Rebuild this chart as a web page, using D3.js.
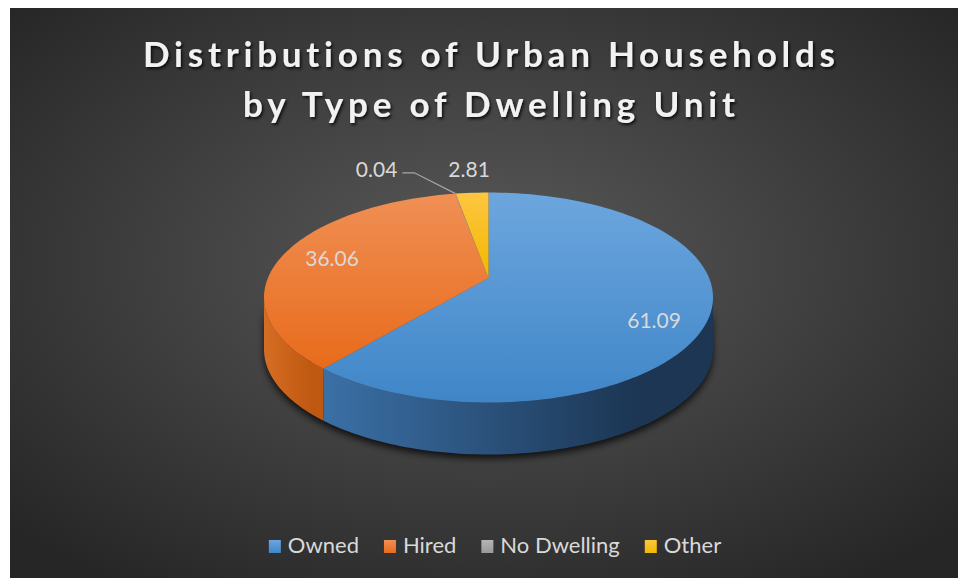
<!DOCTYPE html>
<html lang="en">
<head>
<meta charset="utf-8">
<title>Distributions of Urban Households</title>
<script src="https://cdn.jsdelivr.net/npm/d3@7"></script>
<style>
  body { margin: 0; background: #ffffff; }
  text { font-family: Lato, "Open Sans", sans-serif; font-variant-ligatures: none; }
</style>
</head>
<body>
<script>
// data
var categories = ["Owned", "Hired", "No Dwelling", "Other"];
var values = [61.09, 36.06, 0.04, 2.81];
var labels = ["61.09", "36.06", "0.04", "2.81"];
var titleLines = ["Distributions of Urban Households", "by Type of Dwelling Unit"];

var colors = {
    top:  [["#6da6de", "#3f86c8"], ["#f08f55", "#e86b1b"], ["#b5b5b5", "#999999"], ["#fdc640", "#f2b800"]],
    side: [["#3b70a6", "#1c3654"], ["#d66d23", "#bf5811"], ["#8a8a8a", "#6f6f6f"], ["#d9a300", "#b88a00"]]
};

var width = 958, height = 581;
var cx = 488.5, cy = 297.5, rx = 224.5, ry = 105, depth = 52;
// perspective: the pie centre is seen a bit behind the middle of the ellipse
var tilt = -0.186;
var phi = Math.atanh(tilt), ch = Math.cosh(phi), sh = Math.sinh(phi);

var svg = d3.select("body").append("svg")
    .attr("width", width)
    .attr("height", height);

var defs = svg.append("defs");

// background radial gradient
var bg = defs.append("radialGradient").attr("id", "bg")
    .attr("cx", "50%").attr("cy", "45%").attr("r", "68%");
bg.append("stop").attr("offset", "0%").attr("stop-color", "#5a5a5a");
bg.append("stop").attr("offset", "100%").attr("stop-color", "#262626");

svg.append("rect")
    .attr("x", 10).attr("y", 8)
    .attr("width", width - 10).attr("height", 570)
    .attr("fill", "url(#bg)");

// filters
var blur = defs.append("filter").attr("id", "blur")
    .attr("x", "-20%").attr("y", "-20%").attr("width", "140%").attr("height", "140%");
blur.append("feGaussianBlur").attr("stdDeviation", 3.5);

var ts = defs.append("filter").attr("id", "tshadow")
    .attr("x", "-10%").attr("y", "-30%").attr("width", "120%").attr("height", "160%");
ts.append("feDropShadow").attr("dx", 1.5).attr("dy", 2).attr("stdDeviation", 1.5)
    .attr("flood-color", "#000").attr("flood-opacity", 0.8);

// gradients for each slice
categories.forEach(function(c, i) {
    var g = defs.append("linearGradient").attr("id", "top" + i)
        .attr("x1", 0).attr("y1", 0).attr("x2", 0).attr("y2", 1);
    g.append("stop").attr("offset", "0%").attr("stop-color", colors.top[i][0]);
    g.append("stop").attr("offset", "100%").attr("stop-color", colors.top[i][1]);

    var s = defs.append("linearGradient").attr("id", "side" + i)
        .attr("x1", 0).attr("y1", 0).attr("x2", 1).attr("y2", 0);
    s.append("stop").attr("offset", "0%").attr("stop-color", colors.side[i][0]);
    s.append("stop").attr("offset", "80%").attr("stop-color", colors.side[i][1]);
    s.append("stop").attr("offset", "100%").attr("stop-color", colors.side[i][1]);
});

// title
svg.append("g").selectAll("text")
    .data(titleLines)
    .enter().append("text")
    .attr("x", 489)
    .attr("y", function(d, i) { return 67 + i * 50; })
    .attr("text-anchor", "middle")
    .attr("font-size", 35)
    .attr("font-weight", "bold")
    .attr("fill", "#f2f2f2")
    .attr("filter", "url(#tshadow)")
    .attr("textLength", function(d, i) { return i === 0 ? 692 : 492; })
    .attr("lengthAdjust", "spacing")
    .text(function(d) { return d; });

// pie
var pie = d3.pie().sort(null).value(function(d) { return d; });
var arcs = pie(values);

// project a point of the pie disc (angle a, radius fraction r) onto the screen
function project(a, r) {
    var y0 = -r * Math.cos(a);
    var yp = y0 * ch + sh, w = y0 * sh + ch;
    return [cx + rx * r * Math.sin(a) / w, cy + ry * yp / w];
}
// angle on the screen ellipse for a disc angle
function screenAngle(a) {
    var p = project(a, 1);
    var s = Math.atan2((p[0] - cx) / rx, -(p[1] - cy) / ry);
    var d = s - a;
    while (d > Math.PI) d -= 2 * Math.PI;
    while (d <= -Math.PI) d += 2 * Math.PI;
    return a + d;
}
function ellipsePt(s, dy) {
    return [cx + rx * Math.sin(s), cy - ry * Math.cos(s) + (dy || 0)];
}

var line = d3.line();
var hub = project(0, 0);

function rim(s0, s1, dy) {
    var n = Math.max(2, Math.ceil(Math.abs(s1 - s0) * 40)), pts = [];
    for (var k = 0; k <= n; k++) pts.push(ellipsePt(s0 + (s1 - s0) * k / n, dy));
    return pts;
}
function wallPath(s0, s1) {
    return line(rim(s0, s1, 0).concat(rim(s1, s0, depth))) + "Z";
}

// shadow under the pie
svg.append("path")
    .attr("d", wallPath(Math.PI / 2 - 0.05, Math.PI * 1.5 + 0.05))
    .attr("transform", "translate(0,4)")
    .attr("fill", "#000")
    .attr("opacity", 0.75)
    .attr("filter", "url(#blur)");

// side walls (front half only)
var walls = svg.append("g");
arcs.forEach(function(d, i) {
    var s0 = Math.max(screenAngle(d.startAngle), Math.PI / 2);
    var s1 = Math.min(screenAngle(d.endAngle), Math.PI * 1.5);
    if (s1 <= s0) return;
    walls.append("path")
        .attr("d", wallPath(s0, s1))
        .attr("fill", "url(#side" + i + ")");
});

// top faces
svg.append("g").selectAll("path")
    .data(arcs)
    .enter().append("path")
    .attr("d", function(d) {
        return line([hub].concat(rim(screenAngle(d.startAngle), screenAngle(d.endAngle), 0))) + "Z";
    })
    .attr("fill", function(d, i) { return "url(#top" + i + ")"; });

// data labels
var labelG = svg.append("g")
    .attr("font-size", 21)
    .attr("fill", "#d9d9d9");

// inside labels for the big slices
arcs.forEach(function(d, i) {
    if (values[i] < 10) return;
    var m = (d.startAngle + d.endAngle) / 2;
    var p = project(m, 0.76);
    labelG.append("text")
        .attr("x", p[0]).attr("y", p[1] + 44 * Math.max(0, -Math.cos(m)))
        .attr("dy", "0.35em")
        .attr("text-anchor", "middle")
        .text(labels[i]);
});

// outside labels for the small slices
var other = arcs[3];
var mo = (other.startAngle + other.endAngle) / 2;
var po = project(mo, 1);
var ox = po[0] - 3, oy = po[1] - 23;
var otherText = labelG.append("text")
    .attr("x", ox).attr("y", oy)
    .attr("dy", "0.35em")
    .attr("text-anchor", "middle")
    .text(labels[3]);
var ow = otherText.node().getComputedTextLength();

var nd = arcs[2];
var mn = (nd.startAngle + nd.endAngle) / 2;
var nx = ox - ow / 2 - 51;
labelG.append("text")
    .attr("x", nx).attr("y", oy)
    .attr("dy", "0.35em")
    .attr("text-anchor", "end")
    .text(labels[2]);

var tip = project(mn, 1);
svg.append("path")
    .attr("d", line([[nx + 5, oy + 3], [nx + 17, oy + 3], tip]))
    .attr("fill", "none")
    .attr("stroke", "#a6a6a6")
    .attr("stroke-width", 1.2);

// legend
var legend = svg.append("g").attr("font-size", 22).attr("fill", "#d9d9d9");
var items = legend.selectAll("g").data(categories).enter().append("g");
items.append("rect")
    .attr("width", 12).attr("height", 13)
    .attr("y", -13)
    .attr("fill", function(d, i) { return "url(#top" + i + ")"; });
items.append("text")
    .attr("x", 19)
    .attr("y", 0)
    .text(function(d) { return d; });

var widths = [];
items.each(function() { widths.push(19 + d3.select(this).select("text").node().getComputedTextLength()); });
var gap = 25;
var total = d3.sum(widths) + gap * (widths.length - 1);
var lx = 495 - total / 2;
items.attr("transform", function(d, i) {
    var x = lx + d3.sum(widths.slice(0, i)) + gap * i;
    return "translate(" + x + ",553)";
});
</script>
</body>
</html>
